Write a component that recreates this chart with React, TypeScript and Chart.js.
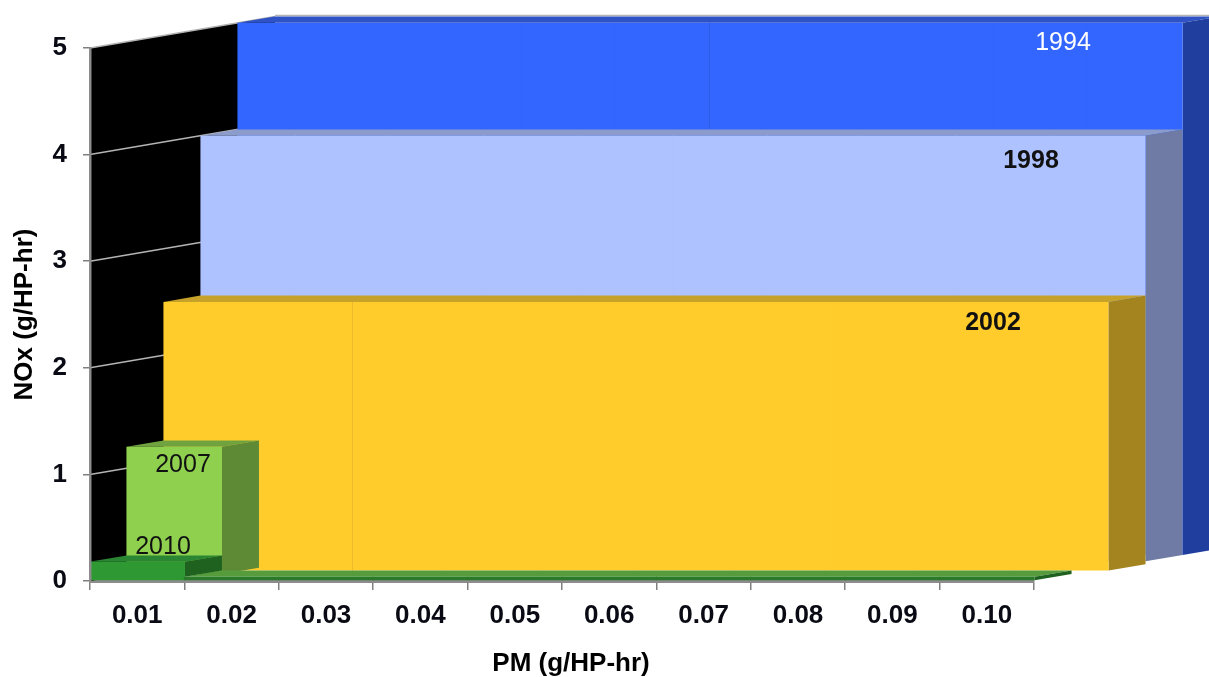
import React, { useEffect, useRef } from "react";
import { Chart, registerables } from "chart.js";

Chart.register(...registerables);

const pmCategories = ["0.01", "0.02", "0.03", "0.04", "0.05", "0.06", "0.07", "0.08", "0.09", "0.10"];
const series2010 = [0.18, 0.04, 0.04, 0.04, 0.04, 0.04, 0.04, 0.04, 0.04, 0.04];
const series2007 = [1.2, null, null, null, null, null, null, null, null, null];
const series2002 = [2.5, 2.5, 2.5, 2.5, 2.5, 2.5, 2.5, 2.5, 2.5, 2.5];
const series1998 = [4, 4, 4, 4, 4, 4, 4, 4, 4, 4];
const series1994 = [5, 5, 5, 5, 5, 5, 5, 5, 5, 5];
const seriesNames = ["2010", "2007", "2002", "1998", "1994"];
const seriesValues = [series2010, series2007, series2002, series1998, series1994];

const DEPTH_X = 37;
const DEPTH_Y = 6.3;

const faces = [
  { front: "#2e9932", top: "#2a8632", side: "#1f611f", lowFront: "#2b7a2b", lowTop: "#569b3c", divider: -1, base: 0 },
  { front: "#8fd14f", top: "#70a33f", side: "#5f8a35", lowFront: "", lowTop: "", divider: -1, base: 0 },
  { front: "#ffcc2b", top: "#c6a22b", side: "#a3841e", lowFront: "", lowTop: "", divider: 2, base: -0.02 },
  { front: "#adc2ff", top: "#8b9bcc", side: "#6f7ba5", lowFront: "", lowTop: "", divider: -1, base: 0 },
  { front: "#3366ff", top: "#2f52c4", side: "#1f3e9e", lowFront: "", lowTop: "", divider: 5, base: 0 },
];
const dividerColors = ["", "", "#ecba2c", "", "#2f5ee6"];

const textLabels = [
  { text: "1994", x: 1063, y: 43, color: "#ffffff", font: "25px 'Liberation Sans'" },
  { text: "1998", x: 1031, y: 161, color: "#111111", font: "bold 25px 'Liberation Sans'" },
  { text: "2002", x: 993, y: 323, color: "#111111", font: "bold 25px 'Liberation Sans'" },
  { text: "2007", x: 183, y: 465, color: "#111111", font: "25px 'Liberation Sans'" },
  { text: "2010", x: 163, y: 547, color: "#111111", font: "25px 'Liberation Sans'" },
  { text: "PM (g/HP-hr)", x: 571, y: 664, color: "#000000", font: "bold 26px 'Liberation Sans'" },
];

function poly(ctx: CanvasRenderingContext2D, pts: number[][], color: string) {
  ctx.beginPath();
  pts.forEach((p, i) => (i ? ctx.lineTo(p[0], p[1]) : ctx.moveTo(p[0], p[1])));
  ctx.closePath();
  ctx.fillStyle = color;
  ctx.fill();
}

const wallPlugin = {
  id: "wall",
  beforeDatasetsDraw(chart: any) {
    const { ctx, scales } = chart;
    const y = scales.y;
    const left = scales.x.left;
    const n = seriesNames.length;
    const dx = DEPTH_X * n;
    const dy = DEPTH_Y * n;
    const y0 = y.getPixelForValue(0);
    const y5 = y.getPixelForValue(5);
    ctx.save();
    poly(ctx, [[left, y0], [left + dx, y0 - dy], [left + dx, y5 - dy], [left, y5]], "#000000");
    ctx.strokeStyle = "#b4b4b4";
    ctx.lineWidth = 1.5;
    y.ticks.forEach((t: any) => {
      if (t.value === 0) return;
      const py = y.getPixelForValue(t.value);
      ctx.beginPath();
      ctx.moveTo(left, py);
      ctx.lineTo(left + dx, py - dy);
      ctx.stroke();
    });
    ctx.beginPath();
    ctx.moveTo(left + dx, y5 - dy - 1);
    ctx.lineTo(chart.width, y5 - dy - 1);
    ctx.stroke();
    ctx.restore();
  },
};

const depthPlugin = {
  id: "depth",
  beforeDatasetDraw(chart: any, args: any) {
    const { ctx } = chart;
    const k = args.index;
    const f = faces[k];
    const values = seriesValues[k];
    const els = args.meta.data;
    ctx.save();
    ctx.translate(DEPTH_X * k, -DEPTH_Y * k);
    // top faces: one polygon for each run of equal values, so no seams appear
    let i = 0;
    while (i < els.length) {
      if (values[i] == null) {
        i++;
        continue;
      }
      let j = i;
      while (j + 1 < els.length && values[j + 1] === values[i]) j++;
      const l = els[i].x - els[i].width / 2;
      const r = els[j].x + els[j].width / 2;
      const top = els[i].y;
      const low = f.lowTop && i > 0;
      poly(ctx, [[l, top], [l + DEPTH_X, top - DEPTH_Y], [r + DEPTH_X, top - DEPTH_Y], [r, top]], low ? f.lowTop : f.top);
      i = j + 1;
    }
    els.forEach((el: any, n: number) => {
      if (values[n] == null) return;
      const next = values[n + 1] == null ? el.base : els[n + 1].y;
      if (next <= el.y) return;
      const r = el.x + el.width / 2;
      poly(ctx, [[r, el.y], [r + DEPTH_X, el.y - DEPTH_Y], [r + DEPTH_X, next - DEPTH_Y], [r, next]], f.side);
    });
  },
  afterDatasetDraw(chart: any, args: any) {
    const { ctx } = chart;
    const k = args.index;
    const f = faces[k];
    if (f.divider >= 0) {
      const el = args.meta.data[f.divider];
      const x = Math.round(el.x - el.width / 2) + 0.5;
      ctx.strokeStyle = dividerColors[k];
      ctx.lineWidth = 1;
      ctx.beginPath();
      ctx.moveTo(x, el.y);
      ctx.lineTo(x, el.base);
      ctx.stroke();
    }
    ctx.restore();
  },
};

const textPlugin = {
  id: "texts",
  afterDraw(chart: any) {
    const { ctx } = chart;
    ctx.save();
    ctx.textAlign = "center";
    ctx.textBaseline = "middle";
    textLabels.forEach((t) => {
      ctx.font = t.font;
      ctx.fillStyle = t.color;
      ctx.fillText(t.text, t.x, t.y);
    });
    ctx.restore();
  },
};

export default function App() {
  const ref = useRef<HTMLCanvasElement>(null);
  useEffect(() => {
    const chart = new Chart(ref.current!, {
      type: "bar",
      data: {
        labels: pmCategories,
        datasets: seriesNames.map((name, k) => ({
          label: name,
          data: seriesValues[k],
          backgroundColor: (c: any) => (faces[k].lowFront && c.dataIndex > 0 ? faces[k].lowFront : faces[k].front),
          barPercentage: 1.012,
          categoryPercentage: 1,
          grouped: false,
          clip: false,
          base: faces[k].base,
        })) as any,
      },
      options: {
        responsive: false,
        animation: false,
        layout: { padding: { top: 48, right: 175, left: 0, bottom: 0 } },
        plugins: { legend: { display: false }, tooltip: { enabled: false } },
        scales: {
          x: {
            type: "category",
            offset: true,
            afterFit: (s: any) => {
              s.height = 96;
            },
            grid: { drawOnChartArea: false, offset: true, color: "#808080", lineWidth: 1.5, tickLength: 9, tickColor: "#808080" },
            border: { color: "#8c8c8c", width: 3, z: 0 },
            ticks: { color: "#0a0a14", font: { family: "'Liberation Sans'", size: 26, weight: "bold" }, padding: 10, maxRotation: 0, autoSkip: false },
          },
          y: {
            min: 0,
            max: 5,
            ticks: { stepSize: 1, color: "#0a0a14", font: { family: "'Liberation Sans'", size: 26, weight: "bold" }, padding: 16 },
            afterFit: (s: any) => {
              s.width = 90;
            },
            grid: { drawOnChartArea: false, color: "#808080", lineWidth: 1.5, tickLength: 7, tickColor: "#808080" },
            border: { color: "#8c8c8c", width: 2.5, z: 1 },
            title: {
              display: true,
              text: "NOx (g/HP-hr)",
              color: "#000000",
              font: { family: "'Liberation Sans'", size: 26, weight: "bold" },
              padding: { top: 9, bottom: 0 },
            },
          },
        },
      } as any,
      plugins: [wallPlugin, depthPlugin, textPlugin],
    });
    return () => chart.destroy();
  }, []);
  return (
    <div style={{ position: "absolute", left: 0, top: 0, width: 1209, height: 677, background: "#fff", overflow: "hidden" }}>
      <canvas ref={ref} width={1209} height={677} style={{ display: "block" }} />
    </div>
  );
}
